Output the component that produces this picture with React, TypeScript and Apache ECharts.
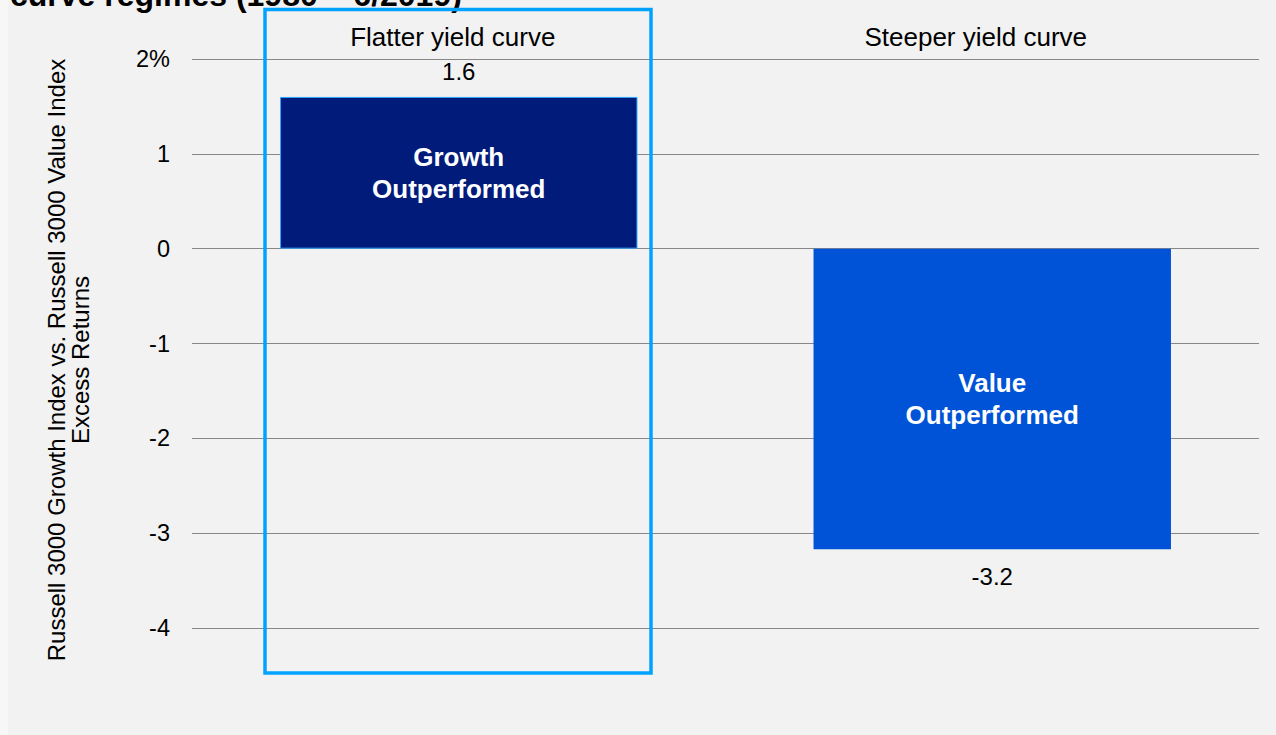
import React, { useEffect, useRef } from "react";
import * as echarts from "echarts";

const categories = ["Flatter yield curve", "Steeper yield curve"];
const excessReturns = [1.6, -3.17];
const insideLabels = ["Growth\nOutperformed", "Value\nOutperformed"];
const barColors = ["#001B7A", "#0053D6"];
const yTicks = { min: -4, max: 2, interval: 1 };
const titleText = "curve regimes (1980 – 6/2019)";
const yAxisTitle = "Russell 3000 Growth Index vs. Russell 3000 Value Index\nExcess Returns";

export default function App() {
  const ref = useRef<HTMLDivElement>(null);
  useEffect(() => {
    document.body.style.background = "#f7f7f7";
    const chart = echarts.init(ref.current!, undefined, { renderer: "svg" });
    const font = "Arial, 'Liberation Sans', sans-serif";
    chart.setOption({
      animation: false,
      backgroundColor: "#f2f2f2",
      textStyle: { fontFamily: font },
      grid: { left: 184, right: 17, top: 59, bottom: 107 },
      xAxis: {
        type: "category",
        position: "top",
        data: categories,
        axisLine: { show: false },
        axisTick: { show: false },
        axisLabel: {
          margin: 9,
          fontSize: 26,
          color: "#000",
          fontFamily: font,
          formatter: (v: string, i: number) => (i === 0 ? `{a|${v}}` : `{b|${v}}`),
          rich: {
            a: { fontSize: 26, color: "#000", fontFamily: font, padding: [0, 12, 0, 0] },
            b: { fontSize: 26, color: "#000", fontFamily: font, padding: [0, 33, 0, 0] },
          },
        },
      },
      yAxis: {
        type: "value",
        min: yTicks.min,
        max: yTicks.max,
        interval: yTicks.interval,
        axisLine: { show: false },
        axisTick: { show: false },
        splitLine: { lineStyle: { color: "#878787", width: 1 } },
        axisLabel: {
          margin: 22,
          fontSize: 23.5,
          color: "#000",
          fontFamily: font,
          formatter: (v: number) => (v === yTicks.max ? `${v}%` : `${v}`),
        },
      },
      series: [
        {
          type: "bar",
          barWidth: "67%",
          data: excessReturns.map((v, i) => ({
            value: v,
            itemStyle: {
              color: barColors[i],
              borderColor: i === 0 ? "#2ea6ff" : barColors[i],
              borderWidth: i === 0 ? 1 : 0,
            },
            label: {
              show: true,
              position: v >= 0 ? "top" : "bottom",
              distance: v >= 0 ? 13 : 15,
              fontSize: 24,
              color: "#000",
              fontFamily: font,
              formatter: () => v.toFixed(1),
            },
          })),
          z: 2,
        },
        {
          type: "bar",
          barWidth: "67%",
          barGap: "-100%",
          silent: true,
          data: excessReturns.map((v, i) => ({
            value: v,
            itemStyle: { color: "rgba(0,0,0,0)" },
            label: {
              show: true,
              position: "inside",
              fontSize: 26,
              fontWeight: "bold",
              lineHeight: 32,
              color: "#fff",
              fontFamily: font,
              formatter: () => insideLabels[i],
            },
          })),
          z: 3,
        },
      ],
      graphic: [
        {
          type: "text",
          left: 2,
          top: -21,
          style: {
            text: titleText,
            font: `bold 32px ${font}`,
            fill: "#000",
          },
        },
        {
          type: "text",
          x: 60,
          y: 360,
          rotation: Math.PI / 2,
          style: {
            text: yAxisTitle,
            font: `24px ${font}`,
            fill: "#000",
            align: "center",
            verticalAlign: "middle",
            lineHeight: 24,
          },
        },
        {
          type: "rect",
          shape: { x: 257, y: 9.5, width: 386, height: 663.5 },
          style: { fill: "none", stroke: "#00A2FF", lineWidth: 3.5 },
          z: 10,
        },
      ],
    });
    return () => chart.dispose();
  }, []);
  return (
    <div
      ref={ref}
      style={{ position: "absolute", left: 8, top: 0, width: 1268, height: 735 }}
    />
  );
}
